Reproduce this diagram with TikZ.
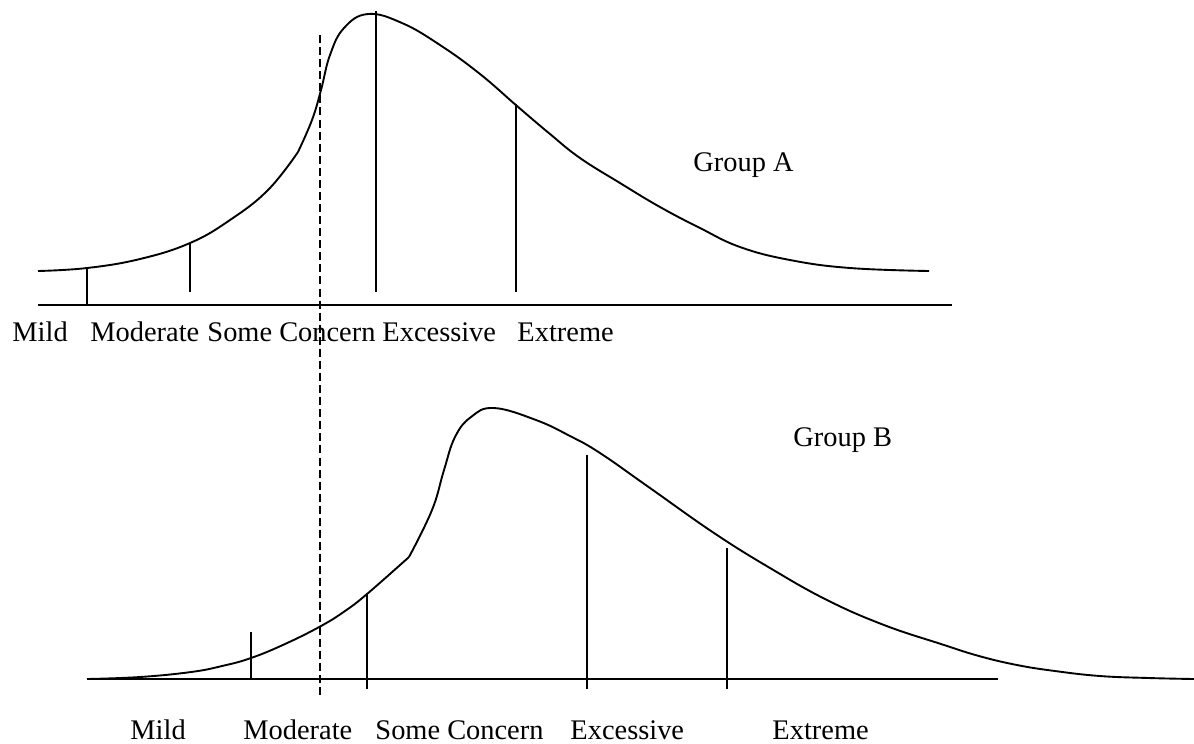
\documentclass[tikz,border=0pt]{standalone}
\usepackage{fontspec}
\setmainfont{Liberation Serif}
\usepackage{tikz}
\usetikzlibrary{positioning}
\tikzset{
curva/.style={line width=0.8pt,smooth,tension=0.7},
asse/.style={line width=0.8pt},
tacca/.style={line width=0.8pt},
soglia/.style={line width=0.8pt,dash pattern=on 3.4pt off 1.7pt},
etichetta/.style={inner sep=0pt,anchor=base west,font=\fontsize{12}{14}\selectfont}}

\begin{document}
\begin{tikzpicture}[x=0.4225pt,y=-0.4225pt]
\useasboundingbox (0,0) rectangle (1194,743);

% Group A
\draw[curva] plot coordinates {(38,271) (87,268) (140,259) (190,243) (230,220) (268,190) (298,152)};
\draw[curva] plot coordinates {(298,152) (312,120) (321,90) (330,55) (344,28) (368,14) (402,23) (440,45) (480,74) (517,106) (550,134) (580,158) (620,183) (660,207) (700,228) (740,247) (790,260) (850,268) (929,271)};
\coordinate (a0) at (38,305);
\coordinate (a1) at (952,305);
\draw[asse] (a0) -- (a1);
\draw[tacca] (87,268) -- (87,305);
\draw[tacca] (190,243) -- (190,292);
\draw[tacca] (376,11) -- (376,292);
\draw[tacca] (516,104) -- (516,292);

\node[etichetta] (mildA) at (12,341) {Mild};
\node[etichetta] (modA) at (90,341) {Moderate};
\node[etichetta] (someA) at (207,341) {Some Concern};
\node[etichetta] (excA) at (382,341) {Excessive};
\node[etichetta] (extA) at (517,341) {Extreme};
\node[etichetta] (gA) at (693,171) {Group A};

% Group B
\draw[curva] plot coordinates {(87,679) (140,677) (191,672) (222,666) (251,658) (285,644) (321,626) (345,611) (367,594) (409,557)};
\draw[curva] plot coordinates {(409,557) (432,510) (444,470) (455,437) (471,417) (494,408) (536,420) (570,436) (600,453) (650,488) (714,533) (770,568) (827,600) (884,625) (941,644) (979,656) (1017,665) (1055,671) (1100,676) (1149,678) (1194,679)};
\coordinate (b0) at (87,679);
\coordinate (b1) at (998,679);
\draw[asse] (b0) -- (b1);
\draw[tacca] (251,632) -- (251,679);
\draw[tacca] (367,594) -- (367,689);
\draw[tacca] (587,455) -- (587,689);
\draw[tacca] (727,548) -- (727,689);

\node[etichetta] (mildB) at (130,739) {Mild};
\node[etichetta] (modB) at (243,739) {Moderate};
\node[etichetta] (someB) at (375,739) {Some Concern};
\node[etichetta] (excB) at (570,739) {Excessive};
\node[etichetta] (extB) at (772,739) {Extreme};
\node[etichetta] (gB) at (793,446) {Group B};

% soglia
\coordinate (s0) at (320,35);
\coordinate (s1) at (320,695);
\draw[soglia] (s0) -- (s1);

\end{tikzpicture}
\end{document}
